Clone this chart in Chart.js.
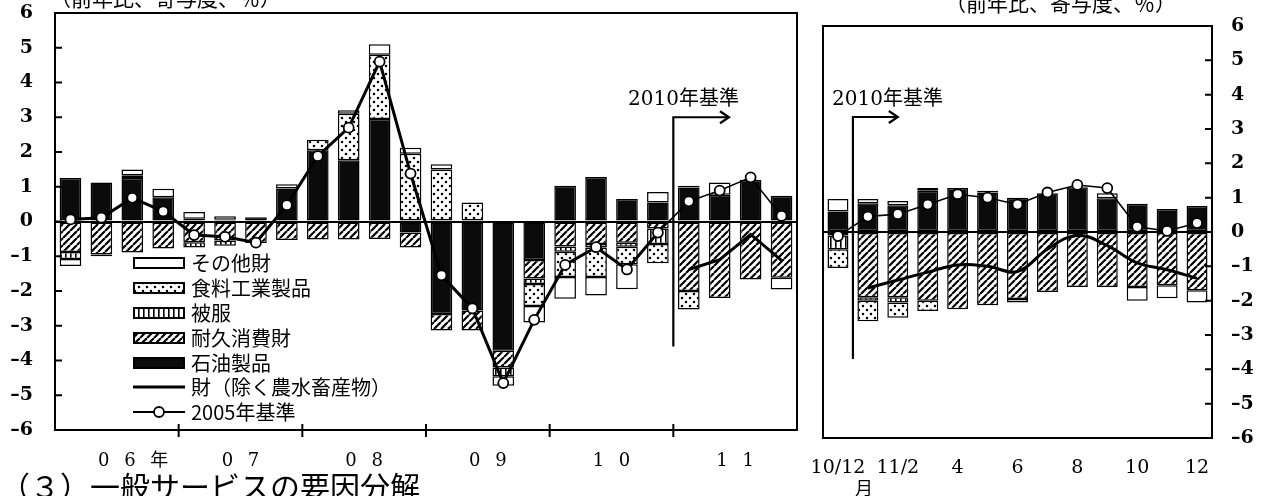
<!DOCTYPE html>
<html><head><meta charset="utf-8">
<script src="https://cdn.jsdelivr.net/npm/chart.js@4.4.1/dist/chart.umd.min.js"></script>
<style>
html,body{margin:0;padding:0;background:#fff;}
#wrap{position:relative;width:1264px;height:496px;overflow:hidden;background:#fff;}
#wrap > canvas{position:absolute;top:0;}
.t{position:absolute;white-space:nowrap;color:#000;font-family:'Noto Sans CJK JP',sans-serif;line-height:1;}
.ser{font-family:'DejaVu Serif','Noto Sans CJK JP',serif;}
#legend{position:absolute;left:133px;top:251px;font-family:'Noto Sans CJK JP',sans-serif;font-size:20px;color:#000;}
.row{height:24.8px;display:flex;align-items:center;white-space:nowrap;line-height:1;}
.row canvas{margin-right:6px;}
</style></head><body>
<div id="wrap">
<canvas id="cl" width="805" height="496" style="left:0"></canvas>
<canvas id="cr" width="459" height="496" style="left:805px"></canvas>
<div class="t" style="left:50px;top:-13px;font-size:21px;">（前年比、寄与度、％）</div>
<div class="t" style="left:945px;top:-8px;font-size:21px;">（前年比、寄与度、％）</div>
<div class="t ser" style="left:628px;top:88px;font-size:20px;">2010年基準</div>
<div class="t ser" style="left:832px;top:88px;font-size:20px;">2010年基準</div>
<div class="t" style="left:855px;top:478px;font-size:18px;">月</div>
<div class="t" style="left:0px;top:470px;font-size:30px;">（３）一般サービスの要因分解</div>
<div id="legend"></div>
</div>
<script>
// ---------- data ----------
const quarterLabels = ['06Q1','06Q2','06Q3','06Q4','07Q1','07Q2','07Q3','07Q4','08Q1','08Q2','08Q3','08Q4',
  '09Q1','09Q2','09Q3','09Q4','10Q1','10Q2','10Q3','10Q4','11Q1','11Q2','11Q3','11Q4'];
const yearLabels = ['\u2003\u2002 0\u2002 6\u2002 年','0\u2002 7','0\u2002 8','0\u2002 9','1\u2002 0','1\u2002 1'];
const yearCenters = [1.5, 5.5, 9.5, 13.5, 17.5, 21.5];
const yearBounds = [3.5, 7.5, 11.5, 15.5, 19.5];

const oilL   = [1.25, 1.12, 1.25, 0.70, 0.08, 0.05, 0.12, 0.95, 2.05, 1.76, 2.95, -0.32, -2.66, -2.56, -3.72, -1.11, 1.03, 1.28, 0.65, 0.55, 0.98, 0.77, 1.20, 0.74];
const durL   = [-0.88, -0.95, -0.89, -0.78, -0.60, -0.55, -0.62, -0.53, -0.52, -0.52, -0.50, -0.43, -0.48, -0.58, -0.48, -0.53, -0.72, -0.65, -0.61, -0.20, -2.00, -2.20, -1.67, -1.62];
const clothL = [-0.20, 0, 0.08, 0, -0.15, -0.15, 0, 0, 0, 0, 0, 0, 0, 0, -0.25, -0.16, -0.15, -0.10, -0.12, -0.45, 0, 0, 0, 0];
const foodL  = [0, 0, 0, 0, 0, 0, 0, 0, 0.30, 1.34, 1.85, 1.95, 1.50, 0.55, 0, -0.63, -0.73, -0.85, -0.50, -0.55, -0.53, 0, 0, 0];
const otherL = [-0.20, -0.05, 0.17, 0.24, 0.19, 0.10, 0, 0.12, 0, 0.10, 0.30, 0.17, 0.15, 0, -0.28, -0.48, -0.62, -0.53, -0.72, 0.30, 0.05, 0.35, 0, -0.34];
const base2005L = [0.06, 0.11, 0.68, 0.29, -0.39, -0.44, -0.61, 0.47, 1.88, 2.70, 4.60, 1.38, -1.55, -2.50, -4.65, -2.83, -1.25, -0.74, -1.38, -0.32, 0.58, 0.89, 1.27, 0.16];
const goodsL = [0.06, 0.11, 0.68, 0.29, -0.39, -0.44, -0.61, 0.47, 1.88, 2.70, 4.60, 1.38, -1.55, -2.50, -4.65, -2.83, -1.25, -0.74, -1.38, -0.32, -1.38, -1.10, -0.37, -1.12];

const monthLabels = ['10/12','','11/2','','4','','6','','8','','10','','12'];
const oilR   = [0.60, 0.84, 0.78, 1.20, 1.28, 1.15, 1.00, 1.13, 1.30, 0.98, 0.82, 0.67, 0.76];
const durR   = [-0.10, -1.90, -1.90, -2.00, -2.25, -2.13, -1.95, -1.75, -1.60, -1.60, -1.60, -1.55, -1.70];
const clothR = [-0.40, -0.10, -0.15, 0.08, 0, 0, 0, 0, 0, 0, 0, 0, 0];
const foodR  = [-0.55, -0.60, -0.45, -0.30, 0, 0, 0, 0, 0, 0, 0, 0, 0];
const otherR = [0.36, 0.12, 0.12, 0, 0, 0.05, -0.10, 0, 0, 0.15, -0.40, -0.38, -0.35];
const base2005R = [-0.12, 0.45, 0.52, 0.80, 1.10, 1.00, 0.80, 1.15, 1.37, 1.28, 0.15, 0.03, 0.26];
const goodsR = [null, -1.63, -1.40, -1.17, -0.96, -1.00, -1.15, -0.50, -0.10, -0.40, -0.90, -1.10, -1.35];

const yTicks = [-6,-5,-4,-3,-2,-1,0,1,2,3,4,5,6];

// ---------- patterns ----------
function makePatterns(ctx){
  const mk=(w,h,draw)=>{const c=document.createElement('canvas');c.width=w;c.height=h;const g=c.getContext('2d');
    g.fillStyle='#fff';g.fillRect(0,0,w,h);g.fillStyle='#000';g.strokeStyle='#000';draw(g,w,h);return ctx.createPattern(c,'repeat');};
  return {
    oil:'#0b0b0b',
    dur: mk(7,7,(g,w,h)=>{g.lineWidth=2.2;g.beginPath();for(const k of [-1,0,1]){g.moveTo(k*w,h);g.lineTo(k*w+w,0);}g.stroke();}),
    cloth: mk(5,8,(g,w,h)=>{g.fillRect(0,0,1.6,h);}),
    food: mk(8,8,(g)=>{g.beginPath();g.arc(2,2,1.3,0,Math.PI*2);g.arc(6,6,1.3,0,Math.PI*2);g.fill();}),
    other:'#ffffff'
  };
}

const FS = "'DejaVu Serif','Noto Sans CJK JP',serif";
const negFmt = v => v < 0 ? '\u2013' + Math.abs(v) : String(v);
const noPad = s => { s.paddingLeft=0; s.paddingRight=0; s.paddingTop=0; s.paddingBottom=0; };

const framePlugin = {
  id:'frame',
  afterDraw(chart, args, o){
    const {ctx, chartArea:a} = chart;
    const y = chart.scales.y, xs = chart.scales[o.xId];
    ctx.save();
    ctx.strokeStyle='#000'; ctx.lineWidth=2;
    ctx.strokeRect(a.left, a.top, a.right-a.left, a.bottom-a.top);
    ctx.beginPath();
    yTicks.forEach(v=>{const py=y.getPixelForValue(v);
      if(o.side==='left'){ctx.moveTo(a.left,py);ctx.lineTo(a.left+7,py);} else {ctx.moveTo(a.right-7,py);ctx.lineTo(a.right,py);} });
    (o.bounds||[]).forEach(v=>{const px=xs.getPixelForValue(v);ctx.moveTo(px,a.bottom-6);ctx.lineTo(px,a.bottom+7);});
    ctx.stroke();
    const ar=o.arrow;
    const x0=xs.getPixelForValue(ar.x), x1=xs.getPixelForValue(ar.xEnd);
    const yt=y.getPixelForValue(ar.yTop), yb=y.getPixelForValue(ar.yBot);
    ctx.lineWidth=2.2;
    ctx.beginPath();ctx.moveTo(x0,yb);ctx.lineTo(x0,yt);ctx.lineTo(x1,yt);ctx.stroke();
    ctx.beginPath();ctx.moveTo(x1-9,yt-6);ctx.lineTo(x1,yt);ctx.lineTo(x1-9,yt+6);ctx.stroke();
    ctx.restore();
  }
};

function barSets(P, oil, dur, cloth, food, other){
  const common={type:'bar',borderColor:'#000',borderWidth:1.5,borderSkipped:false,barPercentage:0.7,categoryPercentage:1.0,order:1};
  return [
    Object.assign({label:'石油製品',data:oil,backgroundColor:P.oil},common),
    Object.assign({label:'耐久消費財',data:dur,backgroundColor:P.dur},common),
    Object.assign({label:'被服',data:cloth,backgroundColor:P.cloth},common),
    Object.assign({label:'食料工業製品',data:food,backgroundColor:P.food},common),
    Object.assign({label:'その他財',data:other,backgroundColor:P.other},common)
  ];
}

function yAxis(side, width, pad){
  return {stacked:true,position:side,min:-6,max:6,
    afterBuildTicks:s=>{s.ticks=yTicks.map(v=>({value:v}));},
    ticks:{color:'#000',padding:pad,font:{family:FS,size:19,weight:'bold'},callback:negFmt},
    grid:{drawTicks:false,lineWidth:2,color:c=>(c.tick&&c.tick.value===0)?'#000':'rgba(0,0,0,0)'},
    border:{display:false},
    afterFit:s=>{s.width=width;noPad(s);}};
}

// ---------- left chart ----------
const ctxL=document.getElementById('cl').getContext('2d');
const PL=makePatterns(ctxL);
new Chart(ctxL,{
  data:{labels:quarterLabels,datasets:[
    {type:'line',label:'2005年基準',data:base2005L,borderColor:'#000',borderWidth:1.6,pointRadius:5,pointBackgroundColor:'#fff',pointBorderColor:'#000',pointBorderWidth:1.8,tension:0,order:0,stack:'l2'},
    {type:'line',label:'財（除く農水畜産物）',data:goodsL,borderColor:'#000',borderWidth:3,pointRadius:0,tension:0,order:0,stack:'l1',
      segment:{borderColor:c=>c.p0DataIndex===19?'rgba(0,0,0,0)':'#000'}},
    ...barSets(PL,oilL,durL,clothL,foodL,otherL)
  ]},
  options:{responsive:false,animation:false,devicePixelRatio:1,
    layout:{padding:{top:13,bottom:0,left:0,right:8}},
    plugins:{legend:{display:false},tooltip:{enabled:false},
      frame:{side:'left',xId:'yr',bounds:yearBounds,arrow:{x:19.5,xEnd:21.3,yTop:3.0,yBot:-3.6}}},
    scales:{
      x:{stacked:true,offset:true,ticks:{display:false},grid:{display:false,drawTicks:false},border:{display:false},afterFit:s=>{s.height=0;noPad(s);}},
      yr:{type:'linear',position:'bottom',min:-0.5,max:23.5,
        afterBuildTicks:s=>{s.ticks=yearCenters.map(v=>({value:v}));},
        ticks:{autoSkip:false,maxRotation:0,padding:21,color:'#000',font:{family:FS,size:18},callback:(v,i)=>yearLabels[i]},
        grid:{display:false,drawTicks:false},border:{display:false},afterFit:s=>{s.height=66;noPad(s);}},
      y:yAxis('left',55,22)
    }
  },
  plugins:[framePlugin]
});

// ---------- right chart ----------
const ctxR=document.getElementById('cr').getContext('2d');
const PR=makePatterns(ctxR);
new Chart(ctxR,{
  data:{labels:monthLabels,datasets:[
    {type:'line',label:'2005年基準',data:base2005R,borderColor:'#000',borderWidth:1.6,pointRadius:5,pointBackgroundColor:'#fff',pointBorderColor:'#000',pointBorderWidth:1.8,tension:0,order:0,stack:'l2'},
    {type:'line',label:'財（除く農水畜産物）',data:goodsR,borderColor:'#000',borderWidth:3,pointRadius:0,tension:0.4,order:0,stack:'l1'},
    ...barSets(PR,oilR,durR,clothR,foodR,otherR)
  ]},
  options:{responsive:false,animation:false,devicePixelRatio:1,
    layout:{padding:{top:26,bottom:0,left:18,right:0}},
    plugins:{legend:{display:false},tooltip:{enabled:false},
      frame:{side:'right',xId:'x',bounds:[],arrow:{x:0.5,xEnd:2.0,yTop:3.35,yBot:-3.7}}},
    scales:{
      x:{stacked:true,offset:true,ticks:{autoSkip:false,maxRotation:0,padding:19,color:'#000',font:{family:FS,size:19}},
        grid:{display:false,drawTicks:false},border:{display:false},afterFit:s=>{s.height=58;noPad(s);}},
      y:yAxis('right',52,19)
    }
  },
  plugins:[framePlugin]
});

// ---------- legend (HTML) ----------
const legendItems=[['その他財','other'],['食料工業製品','food'],['被服','cloth'],['耐久消費財','dur'],['石油製品','oil'],['財（除く農水畜産物）','line'],['2005年基準','circle']];
const lg=document.getElementById('legend');
legendItems.forEach(([txt,key])=>{
  const row=document.createElement('div');row.className='row';
  const c=document.createElement('canvas');c.width=52;c.height=14;
  const g=c.getContext('2d');
  if(key==='line'){g.fillStyle='#000';g.fillRect(0,5.5,52,3);}
  else if(key==='circle'){g.strokeStyle='#000';g.lineWidth=1.8;g.beginPath();g.moveTo(0,7);g.lineTo(52,7);g.stroke();
    g.beginPath();g.arc(26,7,5,0,Math.PI*2);g.fillStyle='#fff';g.fill();g.stroke();}
  else {const P=makePatterns(g);g.fillStyle=P[key];g.fillRect(1,2,50,10);g.strokeStyle='#000';g.lineWidth=2;g.strokeRect(1,2,50,10);}
  row.appendChild(c);
  const s=document.createElement('span');s.textContent=txt;row.appendChild(s);
  lg.appendChild(row);
});
</script>
</body></html>
